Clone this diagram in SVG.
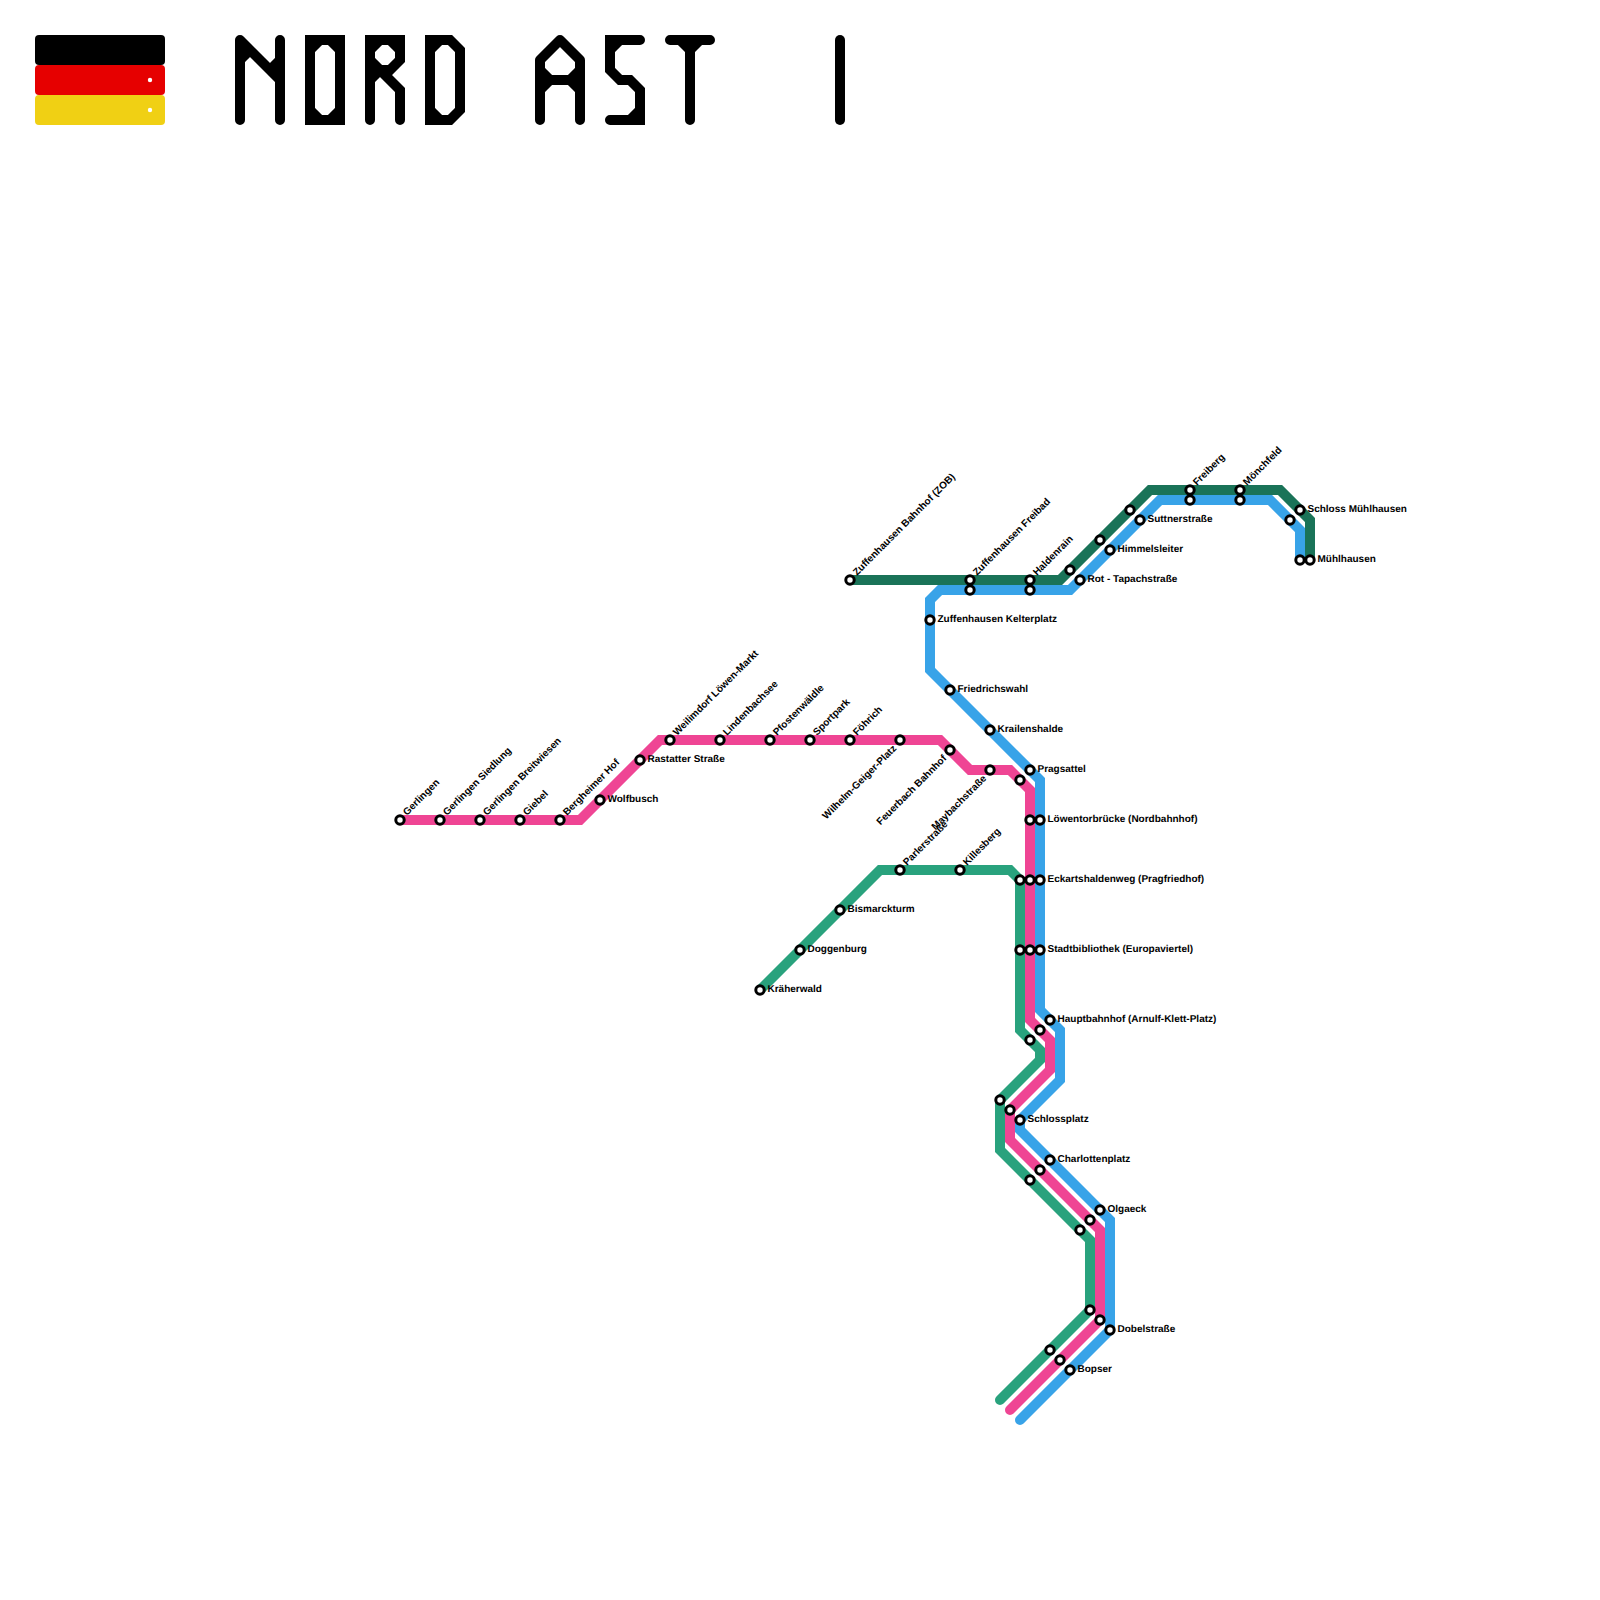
<svg xmlns="http://www.w3.org/2000/svg" width="1600" height="1600" viewBox="0 0 1600 1600">
<style>
text{font-family:"Liberation Sans",Arial,sans-serif;font-size:10px;font-weight:bold;fill:#000;text-rendering:geometricPrecision}
.l{fill:none;stroke-width:10;stroke-linecap:round;stroke-linejoin:miter;stroke-miterlimit:10}
.t{fill:none;stroke:#000;stroke-width:10;stroke-linecap:round;stroke-linejoin:miter}
.r{stroke-linejoin:round}
circle{fill:#fff;stroke:#000;stroke-width:3}
.d{fill:#fff;stroke:none}
</style>
<rect width="1600" height="1600" fill="#fff"/>
<g id="flag">
<rect x="35" y="35" width="130" height="30" rx="4" fill="#000"/>
<rect x="35" y="65" width="130" height="30" rx="4" fill="#e60000"/>
<rect x="35" y="95" width="130" height="30" rx="4" fill="#f0d014"/>
<circle class="d" cx="150" cy="80" r="2.2"/>
<circle class="d" cx="150" cy="110" r="2.2"/>
</g>
<g id="title">
<path class="t r" d="M240,120V40L280,80M280,40V120M240,60L250,50M280,60L270,70"/>
<path class="t" d="M310,40H340V120H310ZM310,50L320,40M330,40L340,50M340,110L330,120M320,120L310,110"/>
<path class="t" d="M370,120V40H400V60L390,70H380L370,60M370,50L380,40M390,40L400,50M370,80L380,70L400,90V120"/>
<path class="t" d="M430,40H450L460,50V110L450,120H430ZM430,50L440,40M440,120L430,110"/>
<path class="t r" d="M540,120V60L560,40L580,60V120M540,80H580M540,70L550,80M570,80L580,70M540,90L550,80M570,80L580,90"/>
<path class="t" d="M640,40H610V70L620,80H630L640,90V120H610M610,50L620,40M640,110L630,120"/>
<path class="t" d="M670,40H710M690,40V120M680,40L690,50L700,40"/>
<path class="t" d="M840,40V120"/>
</g>
<g id="connectors">
<polyline id="line-darkgreen" class="l" stroke="#1a7358" points="850,580 1060,580 1150,490 1280,490 1310,520 1310,560"/>
<polyline id="line-green" class="l" stroke="#29a27d" points="760,990 880,870 1010,870 1020,880 1020,1030 1040,1050 1040,1060 1000,1100 1000,1150 1090,1240 1090,1310 1000,1400"/>
<polyline id="line-pink" class="l" stroke="#ef4594" points="400,820 580,820 660,740 940,740 970,770 1010,770 1030,790 1030,1020 1050,1040 1050,1070 1010,1110 1010,1140 1100,1230 1100,1320 1010,1410"/>
<polyline id="line-blue" class="l" stroke="#38a3e8" points="1020,1420 1110,1330 1110,1220 1020,1130 1020,1120 1060,1080 1060,1030 1040,1010 1040,780 930,670 930,600 940,590 1070,590 1160,500 1270,500 1300,530 1300,560"/>
</g>
<g id="stations">
<g id="s-gerlingen"><circle cx="400" cy="820" r="4.2"/><text transform="translate(407,816) rotate(-45)">Gerlingen</text></g>
<g id="s-gerlingen-siedlung"><circle cx="440" cy="820" r="4.2"/><text transform="translate(447,816) rotate(-45)">Gerlingen Siedlung</text></g>
<g id="s-gerlingen-breitwiesen"><circle cx="480" cy="820" r="4.2"/><text transform="translate(487,816) rotate(-45)">Gerlingen Breitwiesen</text></g>
<g id="s-giebel"><circle cx="520" cy="820" r="4.2"/><text transform="translate(527,816) rotate(-45)">Giebel</text></g>
<g id="s-bergheimer-hof"><circle cx="560" cy="820" r="4.2"/><text transform="translate(567,816) rotate(-45)">Bergheimer Hof</text></g>
<g id="s-wolfbusch"><circle cx="600" cy="800" r="4.2"/><text x="607.5" y="802">Wolfbusch</text></g>
<g id="s-rastatter"><circle cx="640" cy="760" r="4.2"/><text x="647.5" y="762">Rastatter Straße</text></g>
<g id="s-weilimdorf"><circle cx="670" cy="740" r="4.2"/><text transform="translate(677,736) rotate(-45)">Weilimdorf Löwen-Markt</text></g>
<g id="s-lindenbachsee"><circle cx="720" cy="740" r="4.2"/><text transform="translate(727,736) rotate(-45)">Lindenbachsee</text></g>
<g id="s-pfostenwaeldle"><circle cx="770" cy="740" r="4.2"/><text transform="translate(777,736) rotate(-45)">Pfostenwäldle</text></g>
<g id="s-sportpark"><circle cx="810" cy="740" r="4.2"/><text transform="translate(817,736) rotate(-45)">Sportpark</text></g>
<g id="s-foehrich"><circle cx="850" cy="740" r="4.2"/><text transform="translate(857,736) rotate(-45)">Föhrich</text></g>
<g id="s-wilhelm"><circle cx="900" cy="740" r="4.2"/><text text-anchor="end" transform="translate(897,749) rotate(-45)">Wilhelm-Geiger-Platz</text></g>
<g id="s-feuerbach"><circle cx="950" cy="750" r="4.2"/><text text-anchor="end" transform="translate(947,759) rotate(-45)">Feuerbach Bahnhof</text></g>
<g id="s-maybach"><circle cx="990" cy="770" r="4.2"/><text text-anchor="end" transform="translate(987,779) rotate(-45)">Maybachstraße</text></g>
<g id="s-pink-1"><circle cx="1020" cy="780" r="4.2"/></g>
<g id="s-pink-2"><circle cx="1030" cy="820" r="4.2"/></g>
<g id="s-pink-3"><circle cx="1030" cy="880" r="4.2"/></g>
<g id="s-pink-4"><circle cx="1030" cy="950" r="4.2"/></g>
<g id="s-pink-5"><circle cx="1040" cy="1030" r="4.2"/></g>
<g id="s-pink-6"><circle cx="1010" cy="1110" r="4.2"/></g>
<g id="s-pink-7"><circle cx="1040" cy="1170" r="4.2"/></g>
<g id="s-pink-8"><circle cx="1090" cy="1220" r="4.2"/></g>
<g id="s-pink-9"><circle cx="1100" cy="1320" r="4.2"/></g>
<g id="s-pink-10"><circle cx="1060" cy="1360" r="4.2"/></g>
<g id="s-kelterplatz"><circle cx="930" cy="620" r="4.2"/><text x="937.5" y="622">Zuffenhausen Kelterplatz</text></g>
<g id="s-blue-freibad"><circle cx="970" cy="590" r="4.2"/></g>
<g id="s-blue-haldenrain"><circle cx="1030" cy="590" r="4.2"/></g>
<g id="s-tapach"><circle cx="1080" cy="580" r="4.2"/><text x="1087.5" y="582">Rot - Tapachstraße</text></g>
<g id="s-himmelsleiter"><circle cx="1110" cy="550" r="4.2"/><text x="1117.5" y="552">Himmelsleiter</text></g>
<g id="s-suttner"><circle cx="1140" cy="520" r="4.2"/><text x="1147.5" y="522">Suttnerstraße</text></g>
<g id="s-blue-freiberg"><circle cx="1190" cy="500" r="4.2"/></g>
<g id="s-blue-moenchfeld"><circle cx="1240" cy="500" r="4.2"/></g>
<g id="s-blue-schloss"><circle cx="1290" cy="520" r="4.2"/></g>
<g id="s-blue-muehlhausen"><circle cx="1300" cy="560" r="4.2"/></g>
<g id="s-friedrichswahl"><circle cx="950" cy="690" r="4.2"/><text x="957.5" y="692">Friedrichswahl</text></g>
<g id="s-krailenshalde"><circle cx="990" cy="730" r="4.2"/><text x="997.5" y="732">Krailenshalde</text></g>
<g id="s-pragsattel"><circle cx="1030" cy="770" r="4.2"/><text x="1037.5" y="772">Pragsattel</text></g>
<g id="s-loewentor"><circle cx="1040" cy="820" r="4.2"/><text x="1047.5" y="822">Löwentorbrücke (Nordbahnhof)</text></g>
<g id="s-eckart"><circle cx="1040" cy="880" r="4.2"/><text x="1047.5" y="882">Eckartshaldenweg (Pragfriedhof)</text></g>
<g id="s-stadtbib"><circle cx="1040" cy="950" r="4.2"/><text x="1047.5" y="952">Stadtbibliothek (Europaviertel)</text></g>
<g id="s-hbf"><circle cx="1050" cy="1020" r="4.2"/><text x="1057.5" y="1022">Hauptbahnhof (Arnulf-Klett-Platz)</text></g>
<g id="s-schlossplatz"><circle cx="1020" cy="1120" r="4.2"/><text x="1027.5" y="1122">Schlossplatz</text></g>
<g id="s-charlottenplatz"><circle cx="1050" cy="1160" r="4.2"/><text x="1057.5" y="1162">Charlottenplatz</text></g>
<g id="s-olgaeck"><circle cx="1100" cy="1210" r="4.2"/><text x="1107.5" y="1212">Olgaeck</text></g>
<g id="s-dobel"><circle cx="1110" cy="1330" r="4.2"/><text x="1117.5" y="1332">Dobelstraße</text></g>
<g id="s-bopser"><circle cx="1070" cy="1370" r="4.2"/><text x="1077.5" y="1372">Bopser</text></g>
<g id="s-zob"><circle cx="850" cy="580" r="4.2"/><text transform="translate(857,576) rotate(-45)">Zuffenhausen Bahnhof (ZOB)</text></g>
<g id="s-freibad"><circle cx="970" cy="580" r="4.2"/><text transform="translate(977,576) rotate(-45)">Zuffenhausen Freibad</text></g>
<g id="s-haldenrain"><circle cx="1030" cy="580" r="4.2"/><text transform="translate(1037,576) rotate(-45)">Haldenrain</text></g>
<g id="s-dg-1"><circle cx="1070" cy="570" r="4.2"/></g>
<g id="s-dg-2"><circle cx="1100" cy="540" r="4.2"/></g>
<g id="s-dg-3"><circle cx="1130" cy="510" r="4.2"/></g>
<g id="s-freiberg"><circle cx="1190" cy="490" r="4.2"/><text transform="translate(1197,486) rotate(-45)">Freiberg</text></g>
<g id="s-moenchfeld"><circle cx="1240" cy="490" r="4.2"/><text transform="translate(1247,486) rotate(-45)">Mönchfeld</text></g>
<g id="s-schloss"><circle cx="1300" cy="510" r="4.2"/><text x="1307.5" y="512">Schloss Mühlhausen</text></g>
<g id="s-muehlhausen"><circle cx="1310" cy="560" r="4.2"/><text x="1317.5" y="562">Mühlhausen</text></g>
<g id="s-kraeherwald"><circle cx="760" cy="990" r="4.2"/><text x="767.5" y="992">Kräherwald</text></g>
<g id="s-doggenburg"><circle cx="800" cy="950" r="4.2"/><text x="807.5" y="952">Doggenburg</text></g>
<g id="s-bismarck"><circle cx="840" cy="910" r="4.2"/><text x="847.5" y="912">Bismarckturm</text></g>
<g id="s-parler"><circle cx="900" cy="870" r="4.2"/><text transform="translate(907,866) rotate(-45)">Parlerstraße</text></g>
<g id="s-killesberg"><circle cx="960" cy="870" r="4.2"/><text transform="translate(967,866) rotate(-45)">Killesberg</text></g>
<g id="s-green-1"><circle cx="1020" cy="880" r="4.2"/></g>
<g id="s-green-2"><circle cx="1020" cy="950" r="4.2"/></g>
<g id="s-green-3"><circle cx="1030" cy="1040" r="4.2"/></g>
<g id="s-green-4"><circle cx="1000" cy="1100" r="4.2"/></g>
<g id="s-green-5"><circle cx="1030" cy="1180" r="4.2"/></g>
<g id="s-green-6"><circle cx="1080" cy="1230" r="4.2"/></g>
<g id="s-green-7"><circle cx="1090" cy="1310" r="4.2"/></g>
<g id="s-green-8"><circle cx="1050" cy="1350" r="4.2"/></g>
</g>
</svg>
